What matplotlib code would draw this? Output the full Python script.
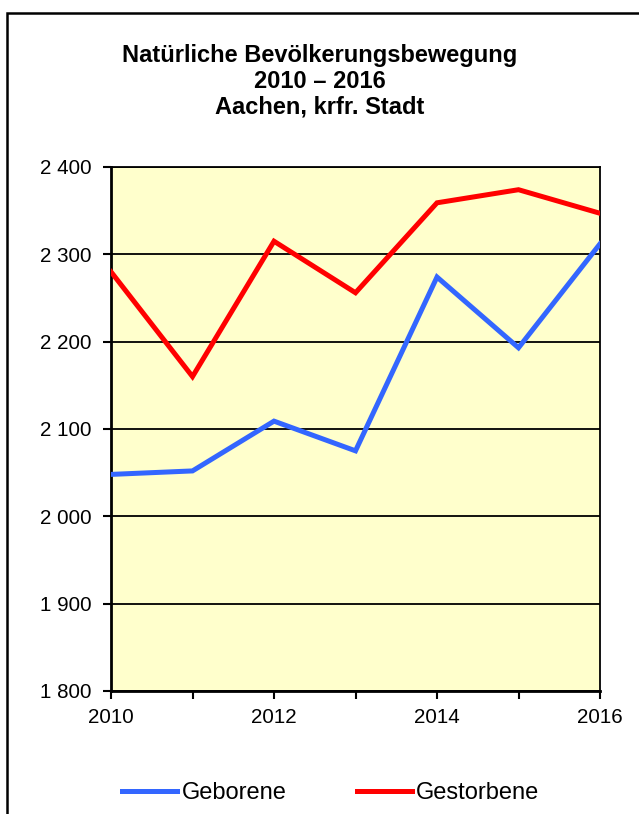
import matplotlib
matplotlib.use('Agg')
import matplotlib.pyplot as plt
from matplotlib.patches import Rectangle
from matplotlib.ticker import FuncFormatter, MultipleLocator

plt.rcParams['font.family'] = ['Liberation Sans', 'DejaVu Sans']

years = [2010, 2011, 2012, 2013, 2014, 2015, 2016]
geborene = [2048, 2052, 2109, 2075, 2274, 2193, 2312]
gestorbene = [2280, 2160, 2315, 2256, 2359, 2374, 2347]

fig = plt.figure(figsize=(6.39, 8.14), dpi=100)
fig.patch.set_facecolor('white')

# outer frame, runs off the right and bottom edge
fig.patches.append(Rectangle((7 / 639, -0.05), 1.2, 1 - 13 / 814 + 0.05,
                             transform=fig.transFigure, fill=False,
                             edgecolor='black', linewidth=1.8))

ax = fig.add_axes([111 / 639, 1 - 691 / 814, (600 - 111) / 639, (691 - 167) / 814])
ax.set_facecolor('#FFFFCC')

ax.plot(years, geborene, color='#3366FF', linewidth=3.6, label='Geborene',
        solid_joinstyle='miter', zorder=3)
ax.plot(years, gestorbene, color='#FF0000', linewidth=3.6, label='Gestorbene',
        solid_joinstyle='miter', zorder=3)

ax.set_xlim(2010, 2016)
ax.set_ylim(1800, 2400)
ax.yaxis.set_major_locator(MultipleLocator(100))
ax.yaxis.set_major_formatter(FuncFormatter(lambda v, p: f'{int(v):,}'.replace(',', ' ')))
ax.set_xticks([2010, 2012, 2014, 2016])
ax.set_xticks(years, minor=True)
ax.grid(axis='y', color='black', linewidth=1.3, zorder=1)

for s in ax.spines.values():
    s.set_color('black')
    s.set_linewidth(1.3)
ax.spines['left'].set_linewidth(2)
ax.spines['bottom'].set_linewidth(2)

ax.tick_params(axis='both', which='both', direction='out', length=6, width=1.5,
               labelsize=14.8, colors='black')
ax.tick_params(axis='x', pad=6)
ax.tick_params(axis='y', pad=8)

fig.text(0.5, 1 - 81 / 814, 'Natürliche Bevölkerungsbewegung\n2010 – 2016\nAachen, krfr. Stadt',
         ha='center', va='center', fontsize=17, fontweight='bold', linespacing=1.15)

fig.legend(loc='center', bbox_to_anchor=(0.518, 1 - 793 / 814), ncol=2, frameon=False,
           fontsize=17, handlelength=2.3, handletextpad=0.2, columnspacing=3.0)

fig.savefig('out.png', dpi=100)
